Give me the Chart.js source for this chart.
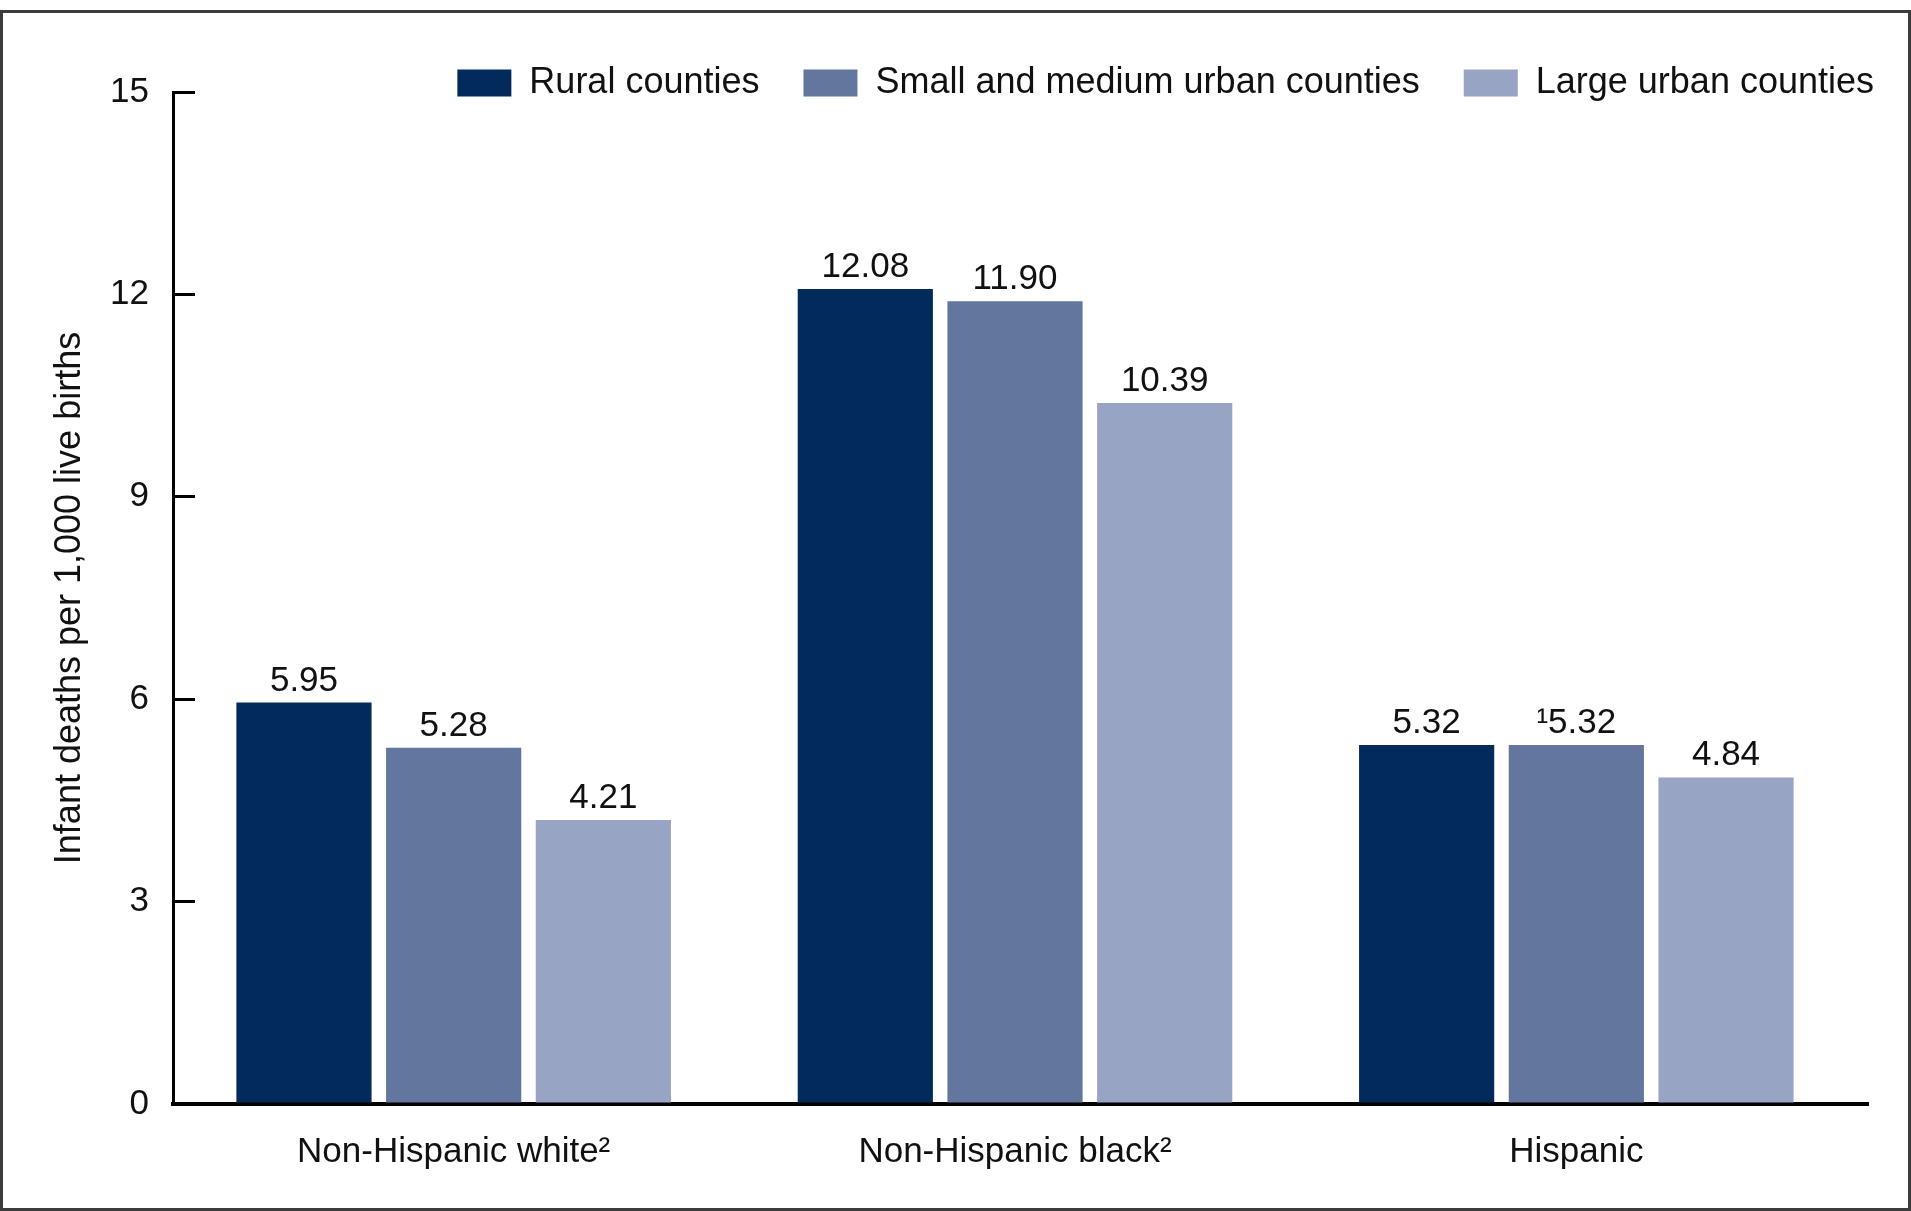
<!DOCTYPE html>
<html>
<head>
<meta charset="utf-8">
<script src="https://cdn.jsdelivr.net/npm/chart.js@4.4.1/dist/chart.umd.min.js"></script>
<style>
html, body { margin: 0; padding: 0; background: #fff; }
#wrap { position: relative; width: 1911px; height: 1211px; overflow: hidden; }
#frame { position: absolute; left: 0; top: 10px; width: 1911px; height: 1201px; box-sizing: border-box; border: 3px solid #3c3c3c; }
canvas { position: absolute; left: 0; top: 0; }
</style>
</head>
<body>
<div id="wrap">
<div id="frame"></div>
<canvas id="rateChart" width="1911" height="1211"></canvas>
</div>
<script>
// data
var categories = ['Non-Hispanic white\u00b2', 'Non-Hispanic black\u00b2', 'Hispanic'];
var rural = [5.95, 12.08, 5.32];
var smallMedium = [5.28, 11.90, 5.32];
var largeUrban = [4.21, 10.39, 4.84];
// footnote marks shown in front of the value labels
var smallMediumNotes = ['', '', '\u00b9'];
var yTicks = [0, 3, 6, 9, 12, 15];

var FONT = '"Liberation Sans", Arial, sans-serif';
var TEXT = '#111';

// value labels above each bar, plus the bit of x axis that runs past the last bar group
var valueLabels = {
	id: 'valueLabels',
	afterLayout: function(chart) {
		// legend box is clipped when drawn, give the descenders some room
		chart.legend.bottom += 30;
		chart.legend.height += 30;
	},
	afterDatasetsDraw: function(chart) {
		var ctx = chart.ctx;
		var area = chart.chartArea;
		ctx.save();
		ctx.strokeStyle = '#000';
		ctx.lineWidth = 4;
		ctx.beginPath();
		ctx.moveTo(area.right - 2, area.bottom);
		ctx.lineTo(area.right + 12, area.bottom);
		ctx.stroke();

		ctx.font = '35px ' + FONT;
		ctx.fillStyle = TEXT;
		ctx.textAlign = 'center';
		ctx.textBaseline = 'alphabetic';
		chart.data.datasets.forEach(function(ds, i) {
			var meta = chart.getDatasetMeta(i);
			meta.data.forEach(function(bar, j) {
				var note = ds.notes ? ds.notes[j] : '';
				ctx.fillText(note + ds.data[j].toFixed(2), bar.x, bar.y - 12);
			});
		});
		ctx.restore();
	}
};

var ctx = document.getElementById('rateChart').getContext('2d');

var rateChart = new Chart(ctx, {
	type: 'bar',
	data: {
		labels: categories,
		datasets: [{
			label: 'Rural counties',
			data: rural,
			backgroundColor: '#022a5a'
		},
		{
			label: 'Small and medium urban counties',
			data: smallMedium,
			notes: smallMediumNotes,
			backgroundColor: '#62769e'
		},
		{
			label: 'Large urban counties',
			data: largeUrban,
			backgroundColor: '#97a4c3'
		}]
	},
	options: {
		responsive: false,
		animation: false,
		devicePixelRatio: 1,
		categoryPercentage: 0.8,
		barPercentage: 0.903,
		layout: {
			padding: { top: 21, left: 0, right: -7, bottom: 0 }
		},
		plugins: {
			tooltip: { enabled: false },
			legend: {
				position: 'top',
				align: 'end',
				maxHeight: 71,
				labels: {
					boxWidth: 54,
					boxHeight: 27,
					padding: 44,
					color: TEXT,
					font: { size: 36, family: FONT }
				}
			}
		},
		scales: {
			x: {
				grid: { display: false, drawTicks: false },
				border: { display: true, color: '#000', width: 4 },
				ticks: {
					color: TEXT,
					padding: 27,
					font: { size: 35, family: FONT }
				},
				afterFit: function(scale) {
					scale.height = 107;
					scale.paddingLeft = 0;
					scale.paddingRight = 54;
				}
			},
			y: {
				min: 0,
				max: 15,
				afterBuildTicks: function(scale) {
					scale.ticks = yTicks.map(function(v) { return { value: v }; });
				},
				grid: {
					display: true,
					drawOnChartArea: false,
					drawTicks: true,
					tickLength: -22,
					color: '#000',
					lineWidth: 3
				},
				border: { display: true, color: '#000', width: 3 },
				ticks: {
					color: TEXT,
					padding: 46,
					font: { size: 35, family: FONT }
				},
				title: {
					display: true,
					text: 'Infant deaths per 1,000 live births',
					color: TEXT,
					padding: { top: 48, bottom: 0 },
					font: { size: 36, family: FONT }
				},
				afterFit: function(scale) {
					scale.width = 173;
				}
			}
		}
	},
	plugins: [valueLabels]
});
</script>
</body>
</html>
